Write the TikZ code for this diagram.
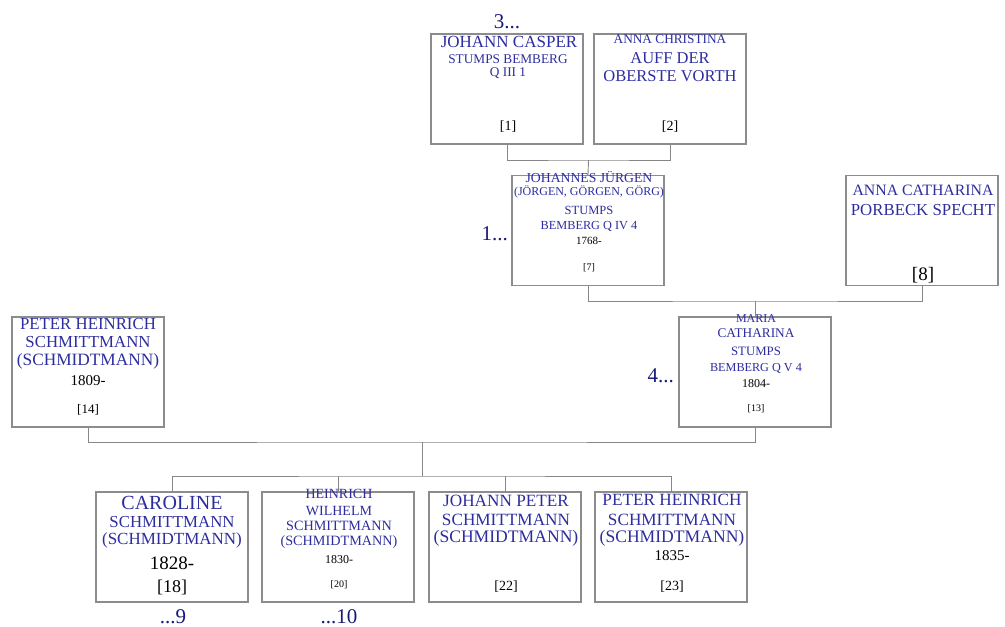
\documentclass[tikz,border=0pt]{standalone}
\usepackage{fontspec}
\setmainfont{Liberation Serif}
\definecolor{nameblue}{RGB}{45,45,160}
\definecolor{lblnavy}{RGB}{25,25,120}
\definecolor{boxgray}{RGB}{140,140,140}
\definecolor{linegray}{RGB}{135,135,135}
\newcommand\fs[1]{\fontsize{#1}{#1}\selectfont}
\begin{document}
\begin{tikzpicture}[x={(1pt,0)},y={(0,-1pt)},
  person/.style={draw=boxgray, line width=1.1pt, minimum width=152pt, minimum height=110pt, inner sep=0, fill=white},
  nm/.style={anchor=base, inner sep=0, text=nameblue},
  dt/.style={anchor=base, inner sep=0, text=black},
  lbl/.style={inner sep=0, text=lblnavy, font=\fs{21}},
  conn/.style={draw=linegray, line width=0.9pt}]
\useasboundingbox (0,0) rectangle (1005,627);
% boxes
\node[person] (b1) at (507,89) {};
\node[person] (b2) at (670,89) {};
\node[person] (b7) at (588,230.5) {};
\node[person] (b8) at (922,230.5) {};
\node[person] (b13) at (755,372) {};
\node[person] (b14) at (88,372) {};
\node[person] (b18) at (172,547) {};
\node[person] (b20) at (338,547) {};
\node[person] (b22) at (505,547) {};
\node[person] (b23) at (671,547) {};
% connectors
\coordinate (j1) at (588.5,160);
\coordinate (j2) at (755,301);
\coordinate (j3) at (422,442);
\coordinate (j4) at (422,476);
\draw[conn] (b1.south) |- (j1) -| (b2.south);
\draw[conn] (j1) -- (b7.north);
\draw[conn] (b7.south) |- (j2) -| (b8.south);
\draw[conn] (j2) -- (b13.north);
\draw[conn] (b14.south) |- (j3) -| (b13.south);
\draw[conn] (j3) -- (j4);
\draw[conn] (b18.north) |- (j4) -| (b23.north);
\draw[conn] (b20.north) -- (b20.north |- j4);
\draw[conn] (b22.north) -- (b22.north |- j4);
% box 1
\node[nm,font=\fs{17}] (t1a) at (509,47) {JOHANN CASPER};
\node[nm,font=\fs{13.3}] (t1b) at (508,63) {STUMPS BEMBERG};
\node[nm,font=\fs{13.3}] (t1c) at (508,76) {Q III 1};
\node[dt,font=\fs{14}] (t1d) at (508,130) {[1]};
% box 2
\node[nm,font=\fs{13.3}] (t2a) at (670,43) {ANNA CHRISTINA};
\node[nm,font=\fs{16.5}] (t2b) at (670,63) {AUFF DER};
\node[nm,font=\fs{16.5}] (t2c) at (670,81) {OBERSTE VORTH};
\node[dt,font=\fs{14}] (t2d) at (670,130) {[2]};
% box 7
\node[nm,font=\fs{13.7}] (t7a) at (589,182) {JOHANNES JÜRGEN};
\node[nm,font=\fs{12}] (t7b) at (589,195) {(JÖRGEN, GÖRGEN, GÖRG)};
\node[nm,font=\fs{12.5}] (t7c) at (589,214) {STUMPS};
\node[nm,font=\fs{12.3}] (t7d) at (589,229) {BEMBERG Q IV 4};
\node[dt,font=\fs{11}] (t7e) at (589,244) {1768-};
\node[dt,font=\fs{10}] (t7f) at (589,270) {[7]};
% box 8
\node[nm,font=\fs{15.8}] (t8a) at (923,195) {ANNA CATHARINA};
\node[nm,font=\fs{16.8}] (t8b) at (923,215) {PORBECK SPECHT};
\node[dt,font=\fs{19}] (t8c) at (923,280) {[8]};
% box 14
\node[nm,font=\fs{16.8}] (t14a) at (88,329) {PETER HEINRICH};
\node[nm,font=\fs{16.8}] (t14b) at (88,347) {SCHMITTMANN};
\node[nm,font=\fs{17.3}] (t14c) at (88,365) {(SCHMIDTMANN)};
\node[dt,font=\fs{15}] (t14d) at (88,385) {1809-};
\node[dt,font=\fs{13}] (t14e) at (88,413) {[14]};
% box 13
\node[nm,font=\fs{12}] (t13a) at (756,322) {MARIA};
\node[nm,font=\fs{13.3}] (t13b) at (756,337) {CATHARINA};
\node[nm,font=\fs{12.8}] (t13c) at (756,355) {STUMPS};
\node[nm,font=\fs{12.2}] (t13d) at (756,371) {BEMBERG Q V 4};
\node[dt,font=\fs{12}] (t13e) at (756,387) {1804-};
\node[dt,font=\fs{10}] (t13f) at (756,411) {[13]};
% box 18
\node[nm,font=\fs{20}] (t18a) at (172,509) {CAROLINE};
\node[nm,font=\fs{16.8}] (t18b) at (172,527) {SCHMITTMANN};
\node[nm,font=\fs{17}] (t18c) at (172,544) {(SCHMIDTMANN)};
\node[dt,font=\fs{19}] (t18d) at (172,569) {1828-};
\node[dt,font=\fs{18}] (t18e) at (172,592) {[18]};
% box 20
\node[nm,font=\fs{14}] (t20a) at (339,498) {HEINRICH};
\node[nm,font=\fs{14}] (t20b) at (339,515) {WILHELM};
\node[nm,font=\fs{14.2}] (t20c) at (339,530) {SCHMITTMANN};
\node[nm,font=\fs{14.2}] (t20d) at (339,545) {(SCHMIDTMANN)};
\node[dt,font=\fs{12}] (t20e) at (339,563) {1830-};
\node[dt,font=\fs{10}] (t20f) at (339,587) {[20]};
% box 22
\node[nm,font=\fs{17.2}] (t22a) at (506,506) {JOHANN PETER};
\node[nm,font=\fs{17.2}] (t22b) at (506,525) {SCHMITTMANN};
\node[nm,font=\fs{17.6}] (t22c) at (506,542) {(SCHMIDTMANN)};
\node[dt,font=\fs{14}] (t22d) at (506,590) {[22]};
% box 23
\node[nm,font=\fs{17.2}] (t23a) at (672,505) {PETER HEINRICH};
\node[nm,font=\fs{17.2}] (t23b) at (672,525) {SCHMITTMANN};
\node[nm,font=\fs{17.6}] (t23c) at (672,542) {(SCHMIDTMANN)};
\node[dt,font=\fs{15}] (t23d) at (672,560) {1835-};
\node[dt,font=\fs{14}] (t23e) at (672,590) {[23]};
% generation labels
\node[lbl,anchor=base] (g3) at (507,28) {3...};
\node[lbl,anchor=base east] (g1) at (508,240) {1...};
\node[lbl,anchor=base east] (g4) at (674,382) {4...};
\node[lbl,anchor=base] (g9) at (173,623) {...9};
\node[lbl,anchor=base] (g10) at (339,623) {...10};
\end{tikzpicture}
\end{document}
